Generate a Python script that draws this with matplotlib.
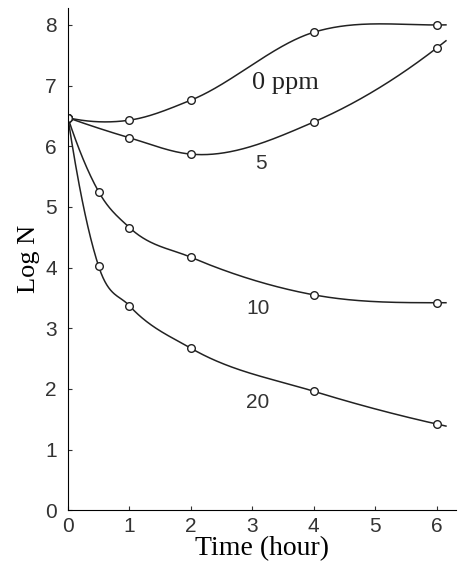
import numpy as np
import matplotlib
matplotlib.use('Agg')
import matplotlib.pyplot as plt

# sampling times (hour) and Log N for each concentration
t_0 = [0, 1, 2, 4, 6]
logn_0 = [6.47, 6.43, 6.76, 7.88, 8.0]
t_5 = [0, 1, 2, 4, 6]
logn_5 = [6.47, 6.14, 5.87, 6.40, 7.62]
t_10 = [0, 0.5, 1, 2, 4, 6]
logn_10 = [6.47, 5.25, 4.66, 4.17, 3.55, 3.42]
t_20 = [0, 0.5, 1, 2, 4, 6]
logn_20 = [6.47, 4.02, 3.37, 2.67, 1.96, 1.42]

labels = ['0 ppm', '5', '10', '20']
label_pos = [(3.0, 7.05), (3.05, 5.72), (2.9, 3.33), (2.9, 1.77)]


def smooth(x, y, xs):
	# cubic hermite with three point tangents, last piece extended a bit
	x = np.asarray(x, float); y = np.asarray(y, float)
	n = len(x)
	h = np.diff(x)
	dl = np.diff(y)/h
	m = np.zeros(n)
	for i in range(1, n-1):
		m[i] = (h[i]*dl[i-1] + h[i-1]*dl[i])/(h[i-1] + h[i])
	m[0] = ((2*h[0]+h[1])*dl[0] - h[0]*dl[1])/(h[0]+h[1])
	if np.sign(m[0]) != np.sign(dl[0]): m[0] = 0
	m[-1] = ((2*h[-1]+h[-2])*dl[-1] - h[-1]*dl[-2])/(h[-1]+h[-2])
	if np.sign(m[-1]) != np.sign(dl[-1]): m[-1] = 0
	k = np.clip(np.searchsorted(x, xs)-1, 0, n-2)
	s = (xs - x[k])/h[k]
	h00 = 2*s**3 - 3*s**2 + 1; h10 = s**3 - 2*s**2 + s
	h01 = -2*s**3 + 3*s**2; h11 = s**3 - s**2
	return h00*y[k] + h10*h[k]*m[k] + h01*y[k+1] + h11*h[k]*m[k+1]


fig = plt.figure(figsize=(4.59, 5.7), dpi=100)
ax = fig.add_axes([0.148, 0.105, 0.845, 0.881])

xs = np.linspace(0, 6.15, 400)
for tt, yy in [(t_0, logn_0), (t_5, logn_5), (t_10, logn_10), (t_20, logn_20)]:
	ax.plot(xs, smooth(tt, yy, xs), color='#222222', lw=1.1)
	ax.plot(tt, yy, 'o', mfc='white', mec='#222222', ms=5.5, mew=1.0)

ax.text(label_pos[0][0], label_pos[0][1], labels[0], fontsize=19, family='Liberation Serif', va='center', color='#222222')
for lab, (px, py) in zip(labels[1:], label_pos[1:]):
	ax.text(px, py, lab, fontsize=15, family='Liberation Sans', va='center', ha='left', color='#333333')

ax.set_xlim(0, 6.31)
ax.set_ylim(0, 8.28)
ax.set_xticks(range(0, 7))
ax.set_yticks(range(0, 9))
ax.spines['top'].set_visible(False)
ax.spines['right'].set_visible(False)
ax.tick_params(direction='in', length=3, labelsize=15, colors='#333333', pad=8)
ax.tick_params(axis='x', pad=5)
for lab in ax.get_xticklabels() + ax.get_yticklabels():
	lab.set_family('Liberation Sans')
ax.set_xlabel('Time (hour)', family='Liberation Serif', fontsize=20, labelpad=0)
ax.set_ylabel('Log N', family='Liberation Serif', fontsize=19, labelpad=4)

plt.savefig('out.png', dpi=100)
